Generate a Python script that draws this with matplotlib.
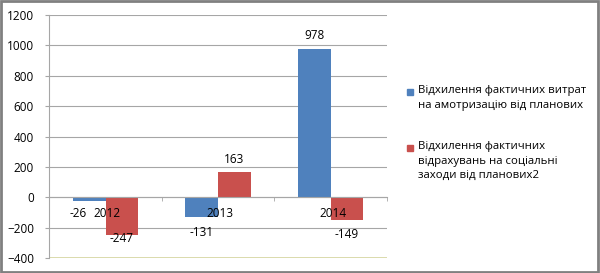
import matplotlib.pyplot as plt
import numpy as np
from matplotlib.patches import Rectangle
from matplotlib.ticker import FixedLocator

years = ['2012', '2013', '2014']
amort_dev = [-26, -131, 978]
social_dev = [-247, 163, -149]
series_names = ['Відхилення фактичних витрат\nна амотризацію від планових',
                'Відхилення фактичних\nвідрахувань на соціальні\nзаходи від планових2']
series_colors = ['#4F81BD', '#C9504D']
yticks = np.arange(-400, 1201, 200)

plt.rcParams['font.family'] = ['Open Sans', 'DejaVu Sans']

def main():
    fig = plt.figure(figsize=(6, 2.73), dpi=100)
    ax = fig.add_axes([0.082, 0.055, 0.563, 0.89])

    x = np.arange(len(years))
    w = 0.29
    b1 = ax.bar(x - w / 2, amort_dev, w, color=series_colors[0], zorder=3)
    b2 = ax.bar(x + w / 2, social_dev, w, color=series_colors[1], zorder=3)

    # label offsets in pixels (dx, dy), same order as the bars
    offs = [[(-11, -12), (0, -15), (0, 13)],
            [(0, -4), (0, 13), (0, -15)]]
    for bars, vals, oo in ((b1, amort_dev, offs[0]), (b2, social_dev, offs[1])):
        for r, v, o in zip(bars, vals, oo):
            ax.annotate(str(v), (r.get_x() + r.get_width() / 2, v), xytext=o,
                        textcoords='offset pixels',
                        ha='center', va='center', fontsize=8.5, zorder=5)

    # year labels drawn as text so they sit on top of the bars
    for xi, yr in zip(x, years):
        ax.annotate(yr, (xi, 0), xytext=(2, -16), textcoords='offset pixels',
                    ha='center', va='center', fontsize=8.5, zorder=6)

    ax.set_xlim(-0.5, 2.5)
    ax.set_ylim(-400, 1200)
    ax.set_yticks(yticks)
    ax.yaxis.grid(True, color='#A6A6A6', lw=0.8, zorder=0)
    ax.axhline(-400, color='#D9D9A0', lw=1.2, zorder=1)

    ax.set_xticks([])
    ax.xaxis.set_minor_locator(FixedLocator([-0.5, 0.5, 1.5, 2.5]))
    ax.tick_params(axis='x', which='minor', length=3, color='#A6A6A6', direction='out')
    ax.tick_params(axis='y', length=3, color='#A6A6A6', pad=8, labelsize=8.5)

    ax.spines['bottom'].set_position(('data', 0))
    ax.spines['bottom'].set_color('#A6A6A6')
    ax.spines['bottom'].set_zorder(4)
    ax.spines['left'].set_color('#A6A6A6')
    ax.spines['top'].set_visible(False)
    ax.spines['right'].set_visible(False)

    # legend: square marker next to the first line of each entry
    leg_top = [92, 148]
    for name, col, ty in zip(series_names, series_colors, leg_top):
        yf = 1 - ty / 273
        fig.patches.append(Rectangle((407 / 600, yf - 3 / 273), 6 / 600, 6 / 273,
                                     transform=fig.transFigure, color=col))
        fig.text(418 / 600, yf + 7 / 273, name, ha='left', va='top',
                 fontsize=8.2, linespacing=1.45)

    fig.patches.append(Rectangle((0.002, 0.004), 0.995, 0.992, transform=fig.transFigure,
                                 fill=False, edgecolor='#808080', lw=2))

    fig.savefig('out.png', dpi=100)

if __name__ == "__main__":
    main()
